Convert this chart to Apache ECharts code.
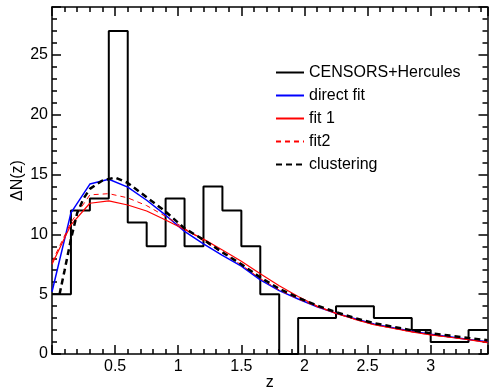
<!DOCTYPE html>
<html>
<head>
<meta charset="utf-8">
<script src="https://cdn.jsdelivr.net/npm/echarts@6/dist/echarts.min.js"></script>
<style>
  html, body { margin: 0; padding: 0; background: #fff; }
  #chart { width: 490px; height: 390px; }
</style>
</head>
<body>
<div id="chart"></div>
<script>
// histogram: bin width 0.15, left edges start at 0
var binWidth = 0.15;
var counts = [5, 12, 13, 27, 11, 9, 13, 9, 14, 12, 9, 5, 0, 3, 3, 4, 4, 3, 3, 2, 1, 1, 2];

// fits sampled every 0.15 in z
var zFit = [0, 0.15, 0.3, 0.45, 0.6, 0.75, 0.9, 1.05, 1.2, 1.35, 1.5, 1.65,
            1.8, 1.95, 2.1, 2.25, 2.4, 2.55, 2.7, 2.85, 3.0, 3.15, 3.3, 3.45];
var directFit = [5.2, 11.8, 14.2, 14.6, 13.95, 12.85, 11.6, 10.25, 9.2, 8.25, 7.35, 6.2,
                 5.3, 4.6, 3.95, 3.4, 2.95, 2.5, 2.2, 1.9, 1.65, 1.45, 1.22, 1.02];
var fit1 = [7.5, 10.8, 12.6, 12.8, 12.45, 11.95, 11.2, 10.4, 9.6, 8.7, 7.75, 6.7,
            5.7, 4.8, 4.0, 3.4, 2.9, 2.45, 2.15, 1.85, 1.6, 1.4, 1.2, 0.95];
var fit2 = [7.7, 11.0, 13.3, 13.4, 13.05, 12.4, 11.5, 10.5, 9.45, 8.45, 7.45, 6.3,
            5.35, 4.6, 3.95, 3.4, 2.9, 2.45, 2.15, 1.85, 1.6, 1.4, 1.2, 1.0];

// clustering curve, finer sampling at low z
var zClust = [0.06, 0.1, 0.15, 0.2, 0.25, 0.3, 0.4, 0.5, 0.6, 0.75, 0.9, 1.05, 1.2, 1.35,
              1.5, 1.65, 1.8, 1.95, 2.1, 2.25, 2.4, 2.55, 2.7, 2.85, 3.0, 3.15, 3.3, 3.45];
var clustering = [5.0, 7.0, 9.6, 11.8, 13.0, 13.8, 14.5, 14.75, 14.3, 13.1, 11.9, 10.5, 9.55, 8.5,
                  7.5, 6.4, 5.45, 4.7, 4.05, 3.5, 3.0, 2.58, 2.28, 1.98, 1.74, 1.54, 1.34, 1.15];

var xMax = 3.45, yMax = 29;

function pairs(xs, ys) {
  return xs.map(function (x, i) { return [x, ys[i]]; });
}

// step outline: each bin's left edge, plus closing point at the last right edge
var histData = counts.map(function (c, i) { return [+(i * binWidth).toFixed(2), c]; });
histData.push([+(counts.length * binWidth).toFixed(2), counts[counts.length - 1]]);

var font = '"Liberation Sans", Arial, sans-serif';
var tickStyle = { color: '#000', width: 1.5 };
var chart = echarts.init(document.getElementById('chart'));

chart.setOption({
  animation: false,
  grid: { left: 52, right: 2.5, top: 7, bottom: 36, outerBoundsMode: 'none' },
  xAxis: [
    { type: 'value', position: 'bottom', min: 0, max: xMax, interval: 0.5,
      name: 'z', nameLocation: 'middle', nameGap: 21, nameMoveOverlap: false,
      nameTextStyle: { fontFamily: font, fontSize: 16, color: '#000' },
      axisLine: { show: true, onZero: false, lineStyle: { color: '#000', width: 1.5 } },
      axisTick: { show: true, inside: true, length: 9, lineStyle: tickStyle },
      minorTick: { show: true, splitNumber: 5, length: 5, lineStyle: tickStyle },
      axisLabel: { show: true, margin: 5, showMaxLabel: false, fontFamily: font, fontSize: 16, color: '#000',
        formatter: function (v) { return v === 0 ? '' : String(v); } },
      splitLine: { show: false } },
    { type: 'value', position: 'top', min: 0, max: xMax, interval: 0.5,
      axisLine: { show: true, onZero: false, lineStyle: { color: '#000', width: 1.5 } },
      axisTick: { show: true, inside: true, length: 9, lineStyle: tickStyle },
      minorTick: { show: true, splitNumber: 5, length: 5, lineStyle: tickStyle },
      axisLabel: { show: false }, splitLine: { show: false } }
  ],
  yAxis: [
    { type: 'value', position: 'left', min: 0, max: yMax, interval: 5,
      name: 'ΔN(z)', nameLocation: 'middle', nameGap: 26, nameMoveOverlap: false,
      nameTextStyle: { fontFamily: font, fontSize: 16, color: '#000' },
      axisLine: { show: true, onZero: false, lineStyle: { color: '#000', width: 1.5 } },
      axisTick: { show: true, inside: true, length: 9, lineStyle: tickStyle },
      minorTick: { show: true, splitNumber: 5, length: 5, lineStyle: tickStyle },
      axisLabel: { show: true, margin: 4, showMaxLabel: false, fontFamily: font, fontSize: 16, color: '#000' },
      splitLine: { show: false } },
    { type: 'value', position: 'right', min: 0, max: yMax, interval: 5,
      axisLine: { show: true, onZero: false, lineStyle: { color: '#000', width: 1.5 } },
      axisTick: { show: true, inside: true, length: 9, lineStyle: tickStyle },
      minorTick: { show: true, splitNumber: 5, length: 5, lineStyle: tickStyle },
      axisLabel: { show: false }, splitLine: { show: false } }
  ],
  legend: {
    orient: 'vertical', left: 270, top: 59.5,
    itemWidth: 28, itemHeight: 14, itemGap: 7,
    itemStyle: { opacity: 0 },
    textStyle: { fontFamily: font, fontSize: 16, color: '#000' },
    data: ['CENSORS+Hercules', 'direct fit', 'fit 1', 'fit2', 'clustering']
  },
  series: [
    { name: 'CENSORS+Hercules', type: 'line', step: 'end', data: histData, symbol: 'none',
      lineStyle: { color: '#000', width: 2 }, itemStyle: { color: '#000' } },
    { name: 'direct fit', type: 'line', data: pairs(zFit, directFit), symbol: 'none',
      lineStyle: { color: '#0000ff', width: 1.5 }, itemStyle: { color: '#0000ff' } },
    { name: 'fit 1', type: 'line', data: pairs(zFit, fit1), symbol: 'none',
      lineStyle: { color: '#ff0000', width: 1.2 }, itemStyle: { color: '#ff0000' } },
    { name: 'fit2', type: 'line', data: pairs(zFit, fit2), symbol: 'none',
      lineStyle: { color: '#ff0000', width: 1, type: [5, 4] }, itemStyle: { color: '#ff0000' } },
    { name: 'clustering', type: 'line', data: pairs(zClust, clustering), symbol: 'none',
      lineStyle: { color: '#000', width: 2.5, type: [6, 4] }, itemStyle: { color: '#000' } }
  ]
});
</script>
</body>
</html>
